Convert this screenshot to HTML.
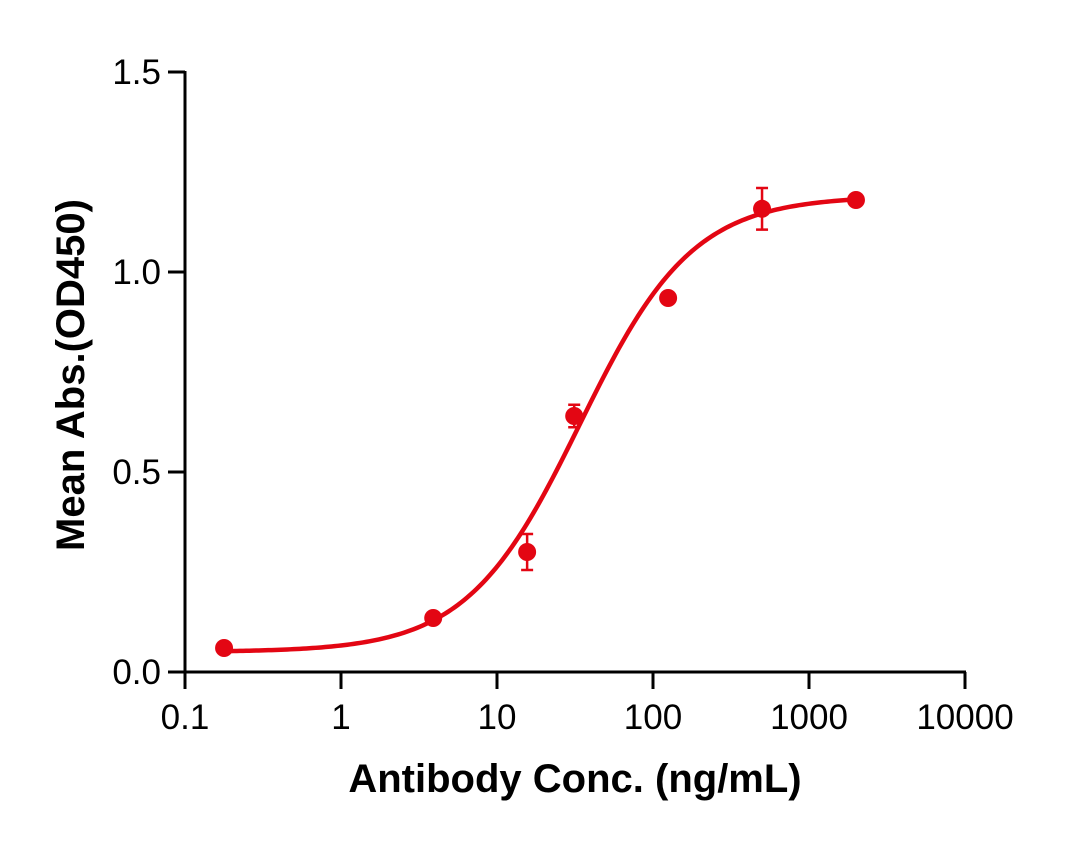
<!DOCTYPE html>
<html><head><meta charset="utf-8"><style>
html,body{margin:0;padding:0;background:#fff;}
svg text{font-family:"Liberation Sans",Arial,sans-serif;}
</style></head><body>
<svg id="chart" width="1088" height="843" viewBox="0 0 1088 843" xmlns="http://www.w3.org/2000/svg">
<g id="axes"></g>
<g id="plot"></g>
<text x="575" y="792" text-anchor="middle" font-size="40" font-weight="bold">Antibody Conc. (ng/mL)</text>
<text transform="translate(84,375) rotate(-90)" text-anchor="middle" font-size="40" font-weight="bold">Mean Abs.(OD450)</text>
</svg>
<script>
const xTicks = [0.1, 1, 10, 100, 1000, 10000];
const xTickLabels = ["0.1", "1", "10", "100", "1000", "10000"];
const yTicks = [0, 0.5, 1.0, 1.5];
const yTickLabels = ["0.0", "0.5", "1.0", "1.5"];
const conc = [0.178, 3.9, 15.6, 31.25, 125, 500, 2000];
const meanAbs = [0.06, 0.135, 0.30, 0.64, 0.935, 1.158, 1.18];
const errAbs = [0, 0, 0.045, 0.028, 0, 0.052, 0];
const fitBottom = [0.05];
const fitTop = [1.19];
const fitEC50 = [34];
const fitHill = [1.2];

const NS = "http://www.w3.org/2000/svg";
const X0 = 185, X1 = 965, Y0 = 672, Y1 = 72;
function xs(v){ return X0 + (Math.log10(v) - Math.log10(0.1)) / 5 * (X1 - X0); }
function ys(v){ return Y0 - v / 1.5 * (Y0 - Y1); }
function mk(tag, attrs, parent){ const e = document.createElementNS(NS, tag); for (const k in attrs) e.setAttribute(k, attrs[k]); parent.appendChild(e); return e; }
const axes = document.getElementById('axes'), plot = document.getElementById('plot');
const red = "#e30613";

const xa = mk('line', {x1: X0 - 17, y1: Y0, x2: X1 + 1, y2: Y0, stroke: '#000', 'stroke-width': 3}, axes);


const ya = mk('line', {x1: X0, y1: Y1 - 1, x2: X0, y2: Y0 + 17, stroke: '#000', 'stroke-width': 3}, axes);



xTicks.forEach((t, i) => {
  const x = xs(t);
  const tk = mk('line', {x1: x, y1: Y0, x2: x, y2: Y0 + 17, stroke: '#000', 'stroke-width': 3}, axes);
  
  
  const tl = mk('text', {x: x, y: Y0 + 57, 'text-anchor': 'middle', 'font-size': 35}, axes);
  tl.textContent = xTickLabels[i];
  
  
});
yTicks.forEach((t, i) => {
  const y = ys(t);
  const tk = mk('line', {x1: X0 - 17, y1: y, x2: X0, y2: y, stroke: '#000', 'stroke-width': 3}, axes);
  
  
  const tl = mk('text', {x: X0 - 24, y: y + 12, 'text-anchor': 'end', 'font-size': 35}, axes);
  tl.textContent = yTickLabels[i];
  
  
});

let d = "";
const lo = Math.log10(conc[0]), hi = Math.log10(conc[conc.length - 1]);
for (let i = 0; i <= 200; i++) {
  const lx = lo + (hi - lo) * i / 200, c = Math.pow(10, lx);
  const v = fitBottom[0] + (fitTop[0] - fitBottom[0]) / (1 + Math.pow(fitEC50[0] / c, fitHill[0]));
  d += (i ? "L" : "M") + xs(c).toFixed(2) + "," + ys(v).toFixed(2);
}
const curve = mk('path', {d: d, fill: 'none', stroke: red, 'stroke-width': 4.5}, plot);



conc.forEach((c, i) => {
  const x = xs(c), y = ys(meanAbs[i]);
  if (errAbs[i] > 0) {
    const yt = ys(meanAbs[i] + errAbs[i]), yb = ys(meanAbs[i] - errAbs[i]);
    const eb = mk('path', {d: `M${x},${yt}L${x},${yb}M${x-6},${yt}L${x+6},${yt}M${x-6},${yb}L${x+6},${yb}`, stroke: red, 'stroke-width': 2.5, fill: 'none'}, plot);
    
    
  }
  const p = mk('circle', {cx: x, cy: y, r: 9, fill: red}, plot);
  
  
});
</script>
</body></html>
